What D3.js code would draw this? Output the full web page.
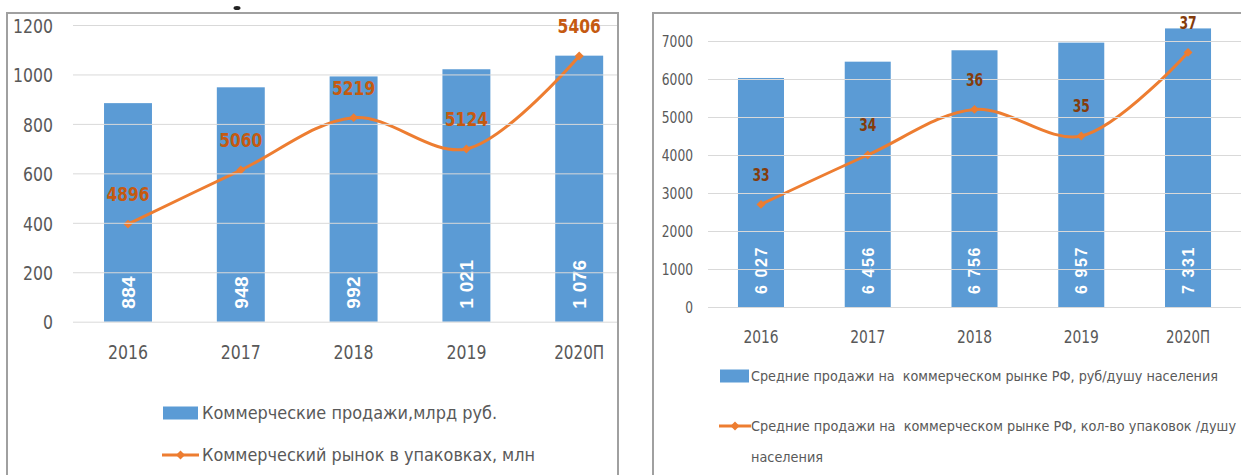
<html lang="ru">
<head>
  <meta charset="UTF-8">
  <title>Commercial market</title>
  <script src="https://d3js.org/d3.v7.min.js"></script>
</head>
<style>
  body { margin: 0; background: #fff; }
  svg text { font-family: 'DejaVu Sans Condensed', 'Liberation Sans', sans-serif; }
  .grid line { stroke: #d9d9d9; stroke-width: 1; }
  .grid .domain { stroke: none; }
</style>
<body>
  <svg class="chart" width="1241" height="475"></svg>
  <script>
    // data
    const years = ['2016', '2017', '2018', '2019', '2020П'];
    const salesBln = [884, 948, 992, 1021, 1076];          // Коммерческие продажи, млрд руб.
    const packsMln = [4896, 5060, 5219, 5124, 5406];       // Коммерческий рынок в упаковках, млн
    const salesPerCapita = [6027, 6456, 6756, 6957, 7331]; // руб/душу населения
    const packsPerCapita = [33.1, 34.4, 35.6, 34.9, 37.1]; // кол-во упаковок/душу населения
    const leftTicks = [0, 200, 400, 600, 800, 1000, 1200];
    const rightTicks = [0, 1000, 2000, 3000, 4000, 5000, 6000, 7000];

    const barColor = '#5b9bd5';
    const lineColor = '#ed7d31';
    const tickColor = '#595959';

    const svg = d3.select('svg.chart');
    const ru = d3.formatLocale({ decimal: ',', thousands: ' ', grouping: [3], currency: ['', ''] });
    const spaced = ru.format(',d');

    // small cut-off mark of a title above the charts
    svg.append('ellipse').attr('cx', 237).attr('cy', 8).attr('rx', 3.5).attr('ry', 2).attr('fill', '#222');

    // narrow-and-tall look of the original font: bigger size, squeezed width
    function squeeze(sel, perChar) {
      sel.attr('textLength', function () { return this.textContent.length * perChar; })
        .attr('lengthAdjust', 'spacingAndGlyphs');
    }

    function drawPanel(opt) {
      const g = svg.append('g');
      const clipId = 'clip' + opt.id;
      svg.append('clipPath').attr('id', clipId).append('rect')
        .attr('x', opt.frame[0]).attr('y', opt.frame[1])
        .attr('width', opt.frame[2] - opt.frame[0]).attr('height', 500);

      const x = d3.scaleBand().domain(years).range(opt.xRange)
        .paddingInner(opt.pad).paddingOuter(opt.pad / 2);
      const y = d3.scaleLinear().domain([0, opt.ticks[opt.ticks.length - 1]]).range(opt.yRange);
      const y2 = d3.scaleLinear().domain(opt.y2Domain).range(opt.yRange);

      const inner = g.append('g').attr('clip-path', `url(#${clipId})`);

      // gridlines + tick labels
      const yAxis = d3.axisLeft(y).tickValues(opt.ticks).tickFormat(d3.format('d'))
        .tickSize(-(opt.xRange[1] - opt.gridX))
        .tickPadding(opt.gridX - opt.labelX);
      const ax = g.append('g').attr('class', 'grid')
        .attr('transform', `translate(${opt.gridX},0)`).call(yAxis);
      ax.selectAll('text').attr('fill', tickColor).style('font-size', opt.tickFont + 'px')
        .attr('dy', '0.36em').call(squeeze, opt.tickChar);
      // keep gridlines inside the frame
      ax.selectAll('.tick line').attr('x2', Math.min(opt.xRange[1], opt.frame[2] - 1) - opt.gridX);

      // bars
      inner.selectAll('rect.bar').data(opt.bars).join('rect')
        .attr('class', 'bar')
        .attr('x', (d, i) => x(years[i]))
        .attr('width', x.bandwidth())
        .attr('y', d => y(d))
        .attr('height', d => y(0) - y(d))
        .attr('fill', barColor);

      // bar value labels, rotated
      inner.selectAll('text.barval').data(opt.bars).join('text')
        .attr('class', 'barval')
        .attr('transform', (d, i) => `translate(${x(years[i]) + x.bandwidth() / 2 + opt.barFont * 0.36},${y(0) - 13}) rotate(-90)`)
        .attr('fill', '#fff')
        .style('font-family', 'Liberation Sans')
        .style('font-weight', 'bold')
        .style('font-size', opt.barFont + 'px')
        .style('letter-spacing', opt.barSpacing + 'px')
        .text(d => spaced(d));

      // x labels
      const xAxis = d3.axisBottom(x).tickSize(0).tickPadding(0);
      const xa = g.append('g').attr('transform', `translate(0,${opt.xLabelY})`).call(xAxis);
      xa.select('.domain').remove();
      xa.selectAll('text').attr('fill', tickColor).attr('dy', '0.36em')
        .style('font-size', opt.xFont + 'px').call(squeeze, opt.xChar);

      // line on hidden secondary axis
      const pts = opt.line.map((v, i) => [x(years[i]) + x.bandwidth() / 2, y2(v)]);
      inner.append('path')
        .attr('d', d3.line().curve(d3.curveCatmullRom)(pts))
        .attr('fill', 'none').attr('stroke', lineColor).attr('stroke-width', 3);
      inner.selectAll('path.mark').data(pts).join('path')
        .attr('class', 'mark')
        .attr('d', d3.symbol(d3.symbolSquare, 40))
        .attr('transform', d => `translate(${d[0]},${d[1]}) rotate(45)`)
        .attr('fill', lineColor);
      g.selectAll('text.lineval').data(opt.line).join('text')
        .attr('class', 'lineval')
        .attr('x', (d, i) => pts[i][0])
        .attr('y', (d, i) => pts[i][1] - opt.labelLift)
        .attr('text-anchor', 'middle')
        .attr('dy', '0.36em')
        .attr('fill', opt.labelColor)
        .style('font-weight', 'bold')
        .style('font-size', opt.labelFont + 'px')
        .text(d => d3.format('.0f')(d))
        .call(squeeze, opt.labelChar);

      // frame
      g.append('path')
        .attr('d', `M${opt.frame[0]},480V${opt.frame[1]}H${opt.frame[2]}V480`)
        .attr('fill', 'none').attr('stroke', '#a0a0a0').attr('stroke-width', 2);

      // legend
      const lg = g.append('g');
      opt.legend.forEach((item) => {
        if (item.type === 'bar') {
          lg.append('rect').attr('x', item.x).attr('y', item.y - 6.5)
            .attr('width', item.sw).attr('height', 13).attr('fill', barColor);
        } else if (item.type === 'line') {
          lg.append('line').attr('x1', item.x).attr('x2', item.x + item.sw)
            .attr('y1', item.y).attr('y2', item.y)
            .attr('stroke', lineColor).attr('stroke-width', 3);
          lg.append('path').attr('d', d3.symbol(d3.symbolSquare, 40))
            .attr('transform', `translate(${item.x + item.sw / 2},${item.y}) rotate(45)`)
            .attr('fill', lineColor);
        }
        lg.append('text').attr('x', item.tx).attr('y', item.y).attr('dy', '0.36em')
          .attr('fill', tickColor)
          .attr('textLength', item.len).attr('lengthAdjust', 'spacingAndGlyphs')
          .style('font-size', item.font + 'px')
          .style('white-space', 'pre')
          .text(item.text);
      });
    }

    drawPanel({
      id: 'L', frame: [7, 13, 618],
      xRange: [71.6, 635.6], pad: 0.575, yRange: [321.7, 25],
      ticks: leftTicks, y2Domain: [4600, 5500],
      bars: salesBln, line: packsMln,
      gridX: 73, labelX: 53, tickFont: 20, tickChar: 10, xFont: 20, xChar: 10, xLabelY: 352,
      barFont: 19, barSpacing: 0.3, labelFont: 20, labelChar: 10.8, labelLift: 30, labelColor: '#c55a11',
      legend: [
        { type: 'bar', x: 163, sw: 35, tx: 202, y: 413, len: 295, font: 17, text: 'Коммерческие продажи,млрд руб.' },
        { type: 'line', x: 162, sw: 37, tx: 202, y: 455, len: 333, font: 17, text: 'Коммерческий рынок в упаковках, млн' }
      ]
    });

    drawPanel({
      id: 'R', frame: [653, 13, 1260],
      xRange: [707.6, 1241.4], pad: 0.569, yRange: [307, 41],
      ticks: rightTicks, y2Domain: [30.4, 37.4],
      bars: salesPerCapita, line: packsPerCapita,
      gridX: 708, labelX: 693, tickFont: 16.5, tickChar: 7.8, xFont: 17, xChar: 8.8, xLabelY: 337,
      barFont: 16, barSpacing: 1.6, labelFont: 18, labelChar: 8.6, labelLift: 30, labelColor: '#843c0c',
      legend: [
        { type: 'bar', x: 720, sw: 29, tx: 751, y: 376, len: 467, font: 13.8, text: 'Средние продажи на  коммерческом рынке РФ, руб/душу населения' },
        { type: 'line', x: 719, sw: 32, tx: 751, y: 426, len: 485, font: 13.8, text: 'Средние продажи на  коммерческом рынке РФ, кол-во упаковок /душу' },
        { type: 'none', tx: 751, y: 457, len: 72, font: 13.8, text: 'населения' }
      ]
    });
  </script>
</body>
</html>
